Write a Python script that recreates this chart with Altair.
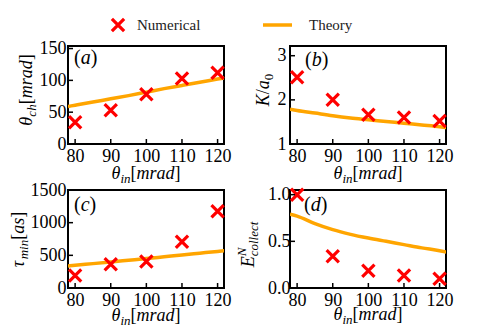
import altair as alt
import pandas as pd

# ---------------- data ----------------
x_ticks = [80, 90, 100, 110, 120]
theta_in_num = [80, 90, 100, 110, 120]
theta_ch_num = [34, 53, 78, 103, 112]
K_num = [2.51, 2.00, 1.66, 1.60, 1.52]
tau_num = [191, 364, 404, 707, 1173]
E_num = [1.00, 0.34, 0.186, 0.133, 0.10]

theta_in_th = [78, 80, 85, 90, 95, 100, 105, 110, 115, 120, 122]
theta_ch_th = [59, 61, 66, 71, 76, 81.5, 87, 92, 97, 102, 104]
K_th = [1.79, 1.76, 1.70, 1.64, 1.59, 1.55, 1.51, 1.47, 1.43, 1.39, 1.37]
tau_th = [338, 349, 373, 398, 424, 450, 478, 506, 533, 560, 571]
E_th = [0.79, 0.77, 0.69, 0.625, 0.575, 0.535, 0.50, 0.465, 0.43, 0.40, 0.385]

ticks_a = [0, 50, 100, 150]
ticks_b = [1, 2, 3]
ticks_c = [0, 500, 1000, 1500]
ticks_d = [0.0, 0.5, 1.0]

legend_labels = ["Numerical", "Theory"]

# ---------------- style ----------------
FONT = "Liberation Serif"
RED = "#ff0000"
ORANGE = "#ffa500"
XPATH = "M-1,-1L1,1M1,-1L-1,1"
W, H = 156, 98
XDOM = [78, 121.8]
ONE = pd.DataFrame({"k": [0]})

W_IT = {"a": .5, "c": .444, "d": .5, "e": .444, "h": .5, "i": .278, "l": .278,
        "m": .722, "n": .5, "o": .5, "r": .389, "s": .389, "t": .278, "K": .667,
        "E": .611, "N": .667, "θ": .5, "τ": .44, "/": .278}
W_RM = {"[": .333, "]": .333, "(": .333, ")": .333, "0": .5, "/": .278}


def tw(s, size, italic):
    tbl = W_IT if italic else W_RM
    return sum(tbl.get(ch, 0.5) for ch in s) * size


def piece(txt, x, y, size, dx, dy, angle, italic):
    kw = dict(text=txt, font=FONT, fontSize=size,
              fontStyle="italic" if italic else "normal", align="left",
              baseline="alphabetic", dx=dx, dy=dy, color="black")
    if angle:
        kw["angle"] = angle
    return alt.Chart(ONE).mark_text(**kw).encode(x=alt.value(x), y=alt.value(y))


def math_text(pieces, x, y, vertical=False):
    # pieces: (text, size, shift, italic, advance)
    total = sum(tw(t, s, i) for t, s, sh, i, adv in pieces if adv)
    pos = -total / 2
    out = []
    for t, s, sh, i, adv in pieces:
        out.append(piece(t, x, y, s, pos, sh, 270 if vertical else 0, i))
        if adv:
            pos += tw(t, s, i)
    return out


M, S = 18, 13


def xtitle(y):
    return math_text([("θ", M, 0, True, True), ("in", S, 4, True, True),
                      ("[", M, 0, False, True), ("mrad", M, 0, True, True),
                      ("]", M, 0, False, True)], W / 2, y)


def plabel(letter, x, y):
    size = 20
    out = []
    pos = 0
    for t, it in (("(", False), (letter, True), (")", False)):
        kw = dict(text=t, font=FONT, fontSize=size, fontStyle="italic" if it else "normal",
                  align="left", baseline="middle", dx=pos, color="black")
        out.append(alt.Chart(ONE).mark_text(**kw).encode(x=alt.value(x), y=alt.value(y)))
        pos += tw(t, size, it)
    return out


def panel(ynum, yth, ydom, yticks, yfmt, ypad, extra):
    xs = alt.Scale(domain=XDOM, nice=False, zero=False)
    ys = alt.Scale(domain=ydom, nice=False, zero=False)
    common = dict(ticks=False, domain=False, grid=False, title=None, labelFont=FONT,
                  labelFontSize=18, labelColor="black")
    xaxis = alt.Axis(values=x_ticks, labelPadding=3, format="d", **common)
    yaxis = alt.Axis(values=yticks, labelPadding=ypad, format=yfmt, **common)
    num = pd.DataFrame({"x": theta_in_num, "y": ynum})
    th = pd.DataFrame({"x": theta_in_th, "y": yth})
    line = alt.Chart(th).mark_line(color=ORANGE, strokeWidth=3.5, clip=True,
                                   interpolate="monotone").encode(
        x=alt.X("x:Q", scale=xs, axis=xaxis), y=alt.Y("y:Q", scale=ys, axis=yaxis))
    pts = alt.Chart(num).mark_point(shape=XPATH, size=150, filled=False, color=RED,
                                    strokeWidth=3.2, opacity=1).encode(
        x=alt.X("x:Q", scale=xs, axis=xaxis), y=alt.Y("y:Q", scale=ys, axis=yaxis))
    xt = alt.Chart(pd.DataFrame({"v": x_ticks})).mark_rule(color="black", strokeWidth=1.5).encode(
        x=alt.X("v:Q", scale=xs, axis=xaxis), y=alt.value(H), y2=alt.value(H - 5))
    yt = alt.Chart(pd.DataFrame({"v": yticks})).mark_rule(color="black", strokeWidth=1.5).encode(
        y=alt.Y("v:Q", scale=ys, axis=yaxis), x=alt.value(0), x2=alt.value(5))
    return alt.layer(line, pts, xt, yt, *extra).properties(width=W, height=H)


# legend (drawn in panel a's space)
legend = [
    alt.Chart(ONE).mark_point(shape=XPATH, size=150, filled=False, color=RED,
                              strokeWidth=3.2, opacity=1).encode(x=alt.value(50), y=alt.value(-21)),
    alt.Chart(ONE).mark_text(text=legend_labels[0], font=FONT, fontSize=15, align="left",
                             baseline="alphabetic", color="#222").encode(x=alt.value(69), y=alt.value(-16)),
    alt.Chart(ONE).mark_rule(color=ORANGE, strokeWidth=3.5).encode(
        x=alt.value(195), x2=alt.value(224), y=alt.value(-21)),
    alt.Chart(ONE).mark_text(text=legend_labels[1], font=FONT, fontSize=15, align="left",
                             baseline="alphabetic", color="#222").encode(x=alt.value(241), y=alt.value(-16)),
]

ytitle_a = math_text([("θ", M, 0, True, True), ("ch", S, 4, True, True),
                      ("[", M, 0, False, True), ("mrad", M, 0, True, True),
                      ("]", M, 0, False, True)], -36, 44, vertical=True)
ytitle_b = math_text([("K", M, 0, True, True), ("/", M, 0, False, True),
                      ("a", M, 0, True, True), ("0", S, 4, False, True)], -21, 44, vertical=True)
ytitle_c = math_text([("τ", M, 0, True, True), ("min", S, 4, True, True),
                      ("[", M, 0, False, True), ("as", M, 0, True, True),
                      ("]", M, 0, False, True)], -44, 49.5, vertical=True)
ytitle_d = math_text([("E", M, 0, True, True), ("N", S, -8, True, False),
                      ("collect", S, 4, True, True)], -36, 54.5, vertical=True)

pa = panel(theta_ch_num, theta_ch_th, [0, 154], ticks_a, "d", 2,
           legend + ytitle_a + xtitle(133) + plabel("a", 6, 12))
pb = panel(K_num, K_th, [1, 3.22], ticks_b, "d", 4,
           ytitle_b + xtitle(133) + plabel("b", 15, 14))
pc = panel(tau_num, tau_th, [0, 1500], ticks_c, "d", 2,
           ytitle_c + xtitle(131) + plabel("c", 6, 14.5))
pd_ = panel(E_num, E_th, [0, 1.05], ticks_d, ".1f", 0,
            ytitle_d + xtitle(130) + plabel("d", 14, 14.5))

chart = alt.concat(pa, pb, pc, pd_, columns=2,
                   spacing=alt.RowColnumber(row=46, column=66), bounds="flush").properties(
    padding={"left": 1, "top": 3, "right": 5, "bottom": 5}
).configure_view(stroke="black", strokeWidth=2)

chart.save("out.html", embed_options={"renderer": "svg", "actions": False})
